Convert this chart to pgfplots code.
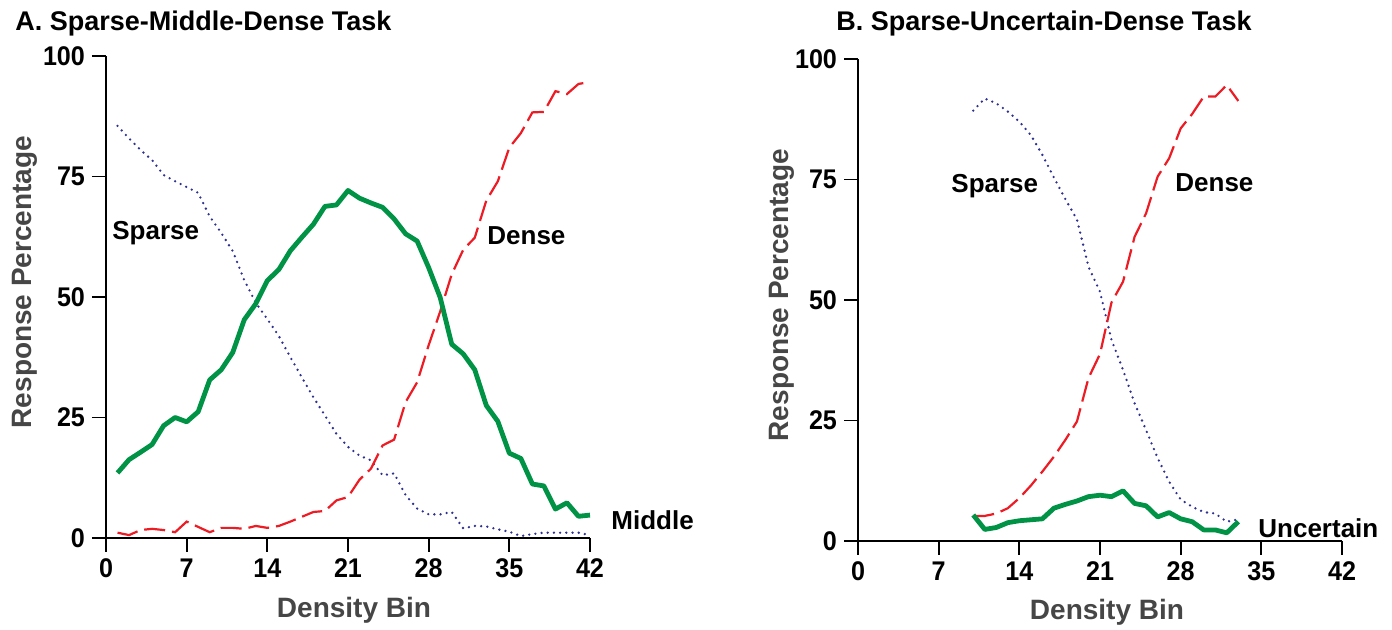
\documentclass[border=0pt]{standalone}
\usepackage{fontspec}
\setmainfont{Liberation Sans}
\newfontfamily\narrowfont[FakeStretch=0.93]{Liberation Sans}
\usepackage{pgfplots}
\pgfplotsset{compat=1.18}
\definecolor{cgreen}{RGB}{0,146,69}
\definecolor{cred}{RGB}{237,28,36}
\definecolor{cblue}{RGB}{46,49,146}
\definecolor{cgray}{RGB}{70,70,70}

\pgfplotstableread{
x sparse middle dense
1 85.5 13.5 1.1
2 82.9 16.25 0.6
3 80.5 17.8 1.65
4 78.4 19.4 1.9
5 75.3 23.3 1.65
6 74.0 25.0 1.2
7 72.8 24.1 3.4
8 71.6 26.2 2.3
9 66.7 32.8 1.2
10 63.3 34.9 2.1
11 59.5 38.5 2.1
12 53.5 45.3 1.9
13 48.8 48.6 2.5
14 45.4 53.4 2.1
15 41.9 55.7 2.5
16 37.5 59.6 3.4
17 33.3 62.4 4.4
18 29.2 65.1 5.4
19 25.4 68.8 5.6
20 21.6 69.1 7.8
21 18.9 72.1 8.5
22 17.1 70.5 12.1
23 16.1 69.5 14.4
24 13.0 68.6 19.2
25 13.4 66.2 20.4
26 8.9 63.1 28.2
27 6.1 61.6 32.3
28 4.9 56.1 40.0
29 4.9 49.9 47.0
30 5.4 40.2 54.7
31 2.0 38.2 59.8
32 2.5 34.9 62.3
33 2.4 27.5 70.0
34 1.8 24.2 74.0
35 1.3 17.6 81.0
36 0.4 16.5 84.0
37 0.8 11.2 88.3
38 1.1 10.8 88.4
39 1.1 6.0 92.7
40 1.1 7.3 92.1
41 1.1 4.5 94.2
42 0.6 4.75 94.6
}\tableA

\pgfplotstableread{
x sparse uncertain dense
10 89.3 5.4 5.2
11 91.8 2.4 5.2
12 90.8 2.8 5.7
13 89.1 3.8 6.8
14 87.0 4.2 8.9
15 84.2 4.4 11.5
16 80.1 4.6 14.4
17 75.4 6.8 17.5
18 70.9 7.6 21.0
19 66.7 8.3 24.8
20 56.9 9.2 33.8
21 51.7 9.5 38.8
22 41.7 9.2 49.5
23 35.5 10.4 53.8
24 28.6 7.8 63.1
25 23.0 7.3 68.0
26 17.2 5.0 75.6
27 12.3 5.9 79.4
28 8.6 4.6 85.6
29 7.1 4.0 88.6
30 6.0 2.3 92.2
31 5.7 2.3 92.2
32 4.0 1.7 94.6
33 4.5 4.0 91.3
}\tableB

\pgfplotsset{
  myax/.style={
    scale only axis, width=242pt, height=241pt,
    xmin=0, xmax=42, ymin=0, ymax=100,
    axis x line*=bottom, axis y line*=left,
    axis line style={-, line width=1.1pt, black},
    xtick={0,7,14,21,28,35,42}, ytick={0,25,50,75,100},
    tick align=outside, major tick length=7pt,
    tick style={line width=0.9pt, black},
    ticklabel style={font=\narrowfont\bfseries\fontsize{13.5}{16}\selectfont},
    /pgf/number format/assume math mode=true,
    clip=false,
  },
  sp/.style={cblue, line width=1.3pt, dash pattern=on 0pt off 3.1pt, line cap=round},
  mid/.style={cgreen, line width=2.4pt, line join=round},
  den/.style={cred, line width=1.1pt, dash pattern=on 10.5pt off 3.5pt},
}

\begin{document}
\begin{tikzpicture}
\useasboundingbox (-53pt,-46pt) rectangle (643pt,269pt);

\begin{axis}[myax, at={(0pt,0pt)}, anchor=south west]
\addplot[sp] table[x=x,y=sparse]{\tableA};
\addplot[den] table[x=x,y=dense]{\tableA};
\addplot[mid] table[x=x,y=middle]{\tableA};
\end{axis}

\begin{axis}[myax, at={(376pt,-1.5pt)}, anchor=south west]
\addplot[sp] table[x=x,y=sparse]{\tableB};
\addplot[den] table[x=x,y=dense]{\tableB};
\addplot[mid] table[x=x,y=uncertain]{\tableB};
\end{axis}

\tikzset{ttl/.style={font=\bfseries\fontsize{13.5}{16}\selectfont, inner sep=0pt, anchor=base west},
         lab/.style={font=\bfseries\fontsize{14}{16}\selectfont, text=cgray, inner sep=0pt, anchor=base},
         ser/.style={font=\bfseries\fontsize{13}{16}\selectfont, inner sep=0pt, anchor=base west}}

\node[ttl] at (-45.5pt,253.5pt) {A. Sparse-Middle-Dense Task};
\node[ttl] at (365pt,253.5pt) {B. Sparse-Uncertain-Dense Task};

\node[lab, rotate=90] at (-37pt,128pt) {Response Percentage};
\node[lab, rotate=90] at (341pt,121.5pt) {Response Percentage};
\node[lab] at (124pt,-40pt) {Density Bin};
\node[lab] at (500.5pt,-41pt) {Density Bin};

\node[ser] at (3pt,149pt) {Sparse};
\node[ser] at (190.5pt,146.5pt) {Dense};
\node[ser] at (252.5pt,4pt) {Middle};
\node[ser] at (422.5pt,172.5pt) {Sparse};
\node[ser] at (534.5pt,173pt) {Dense};
\node[ser] at (576pt,0pt) {Uncertain};
\end{tikzpicture}
\end{document}
